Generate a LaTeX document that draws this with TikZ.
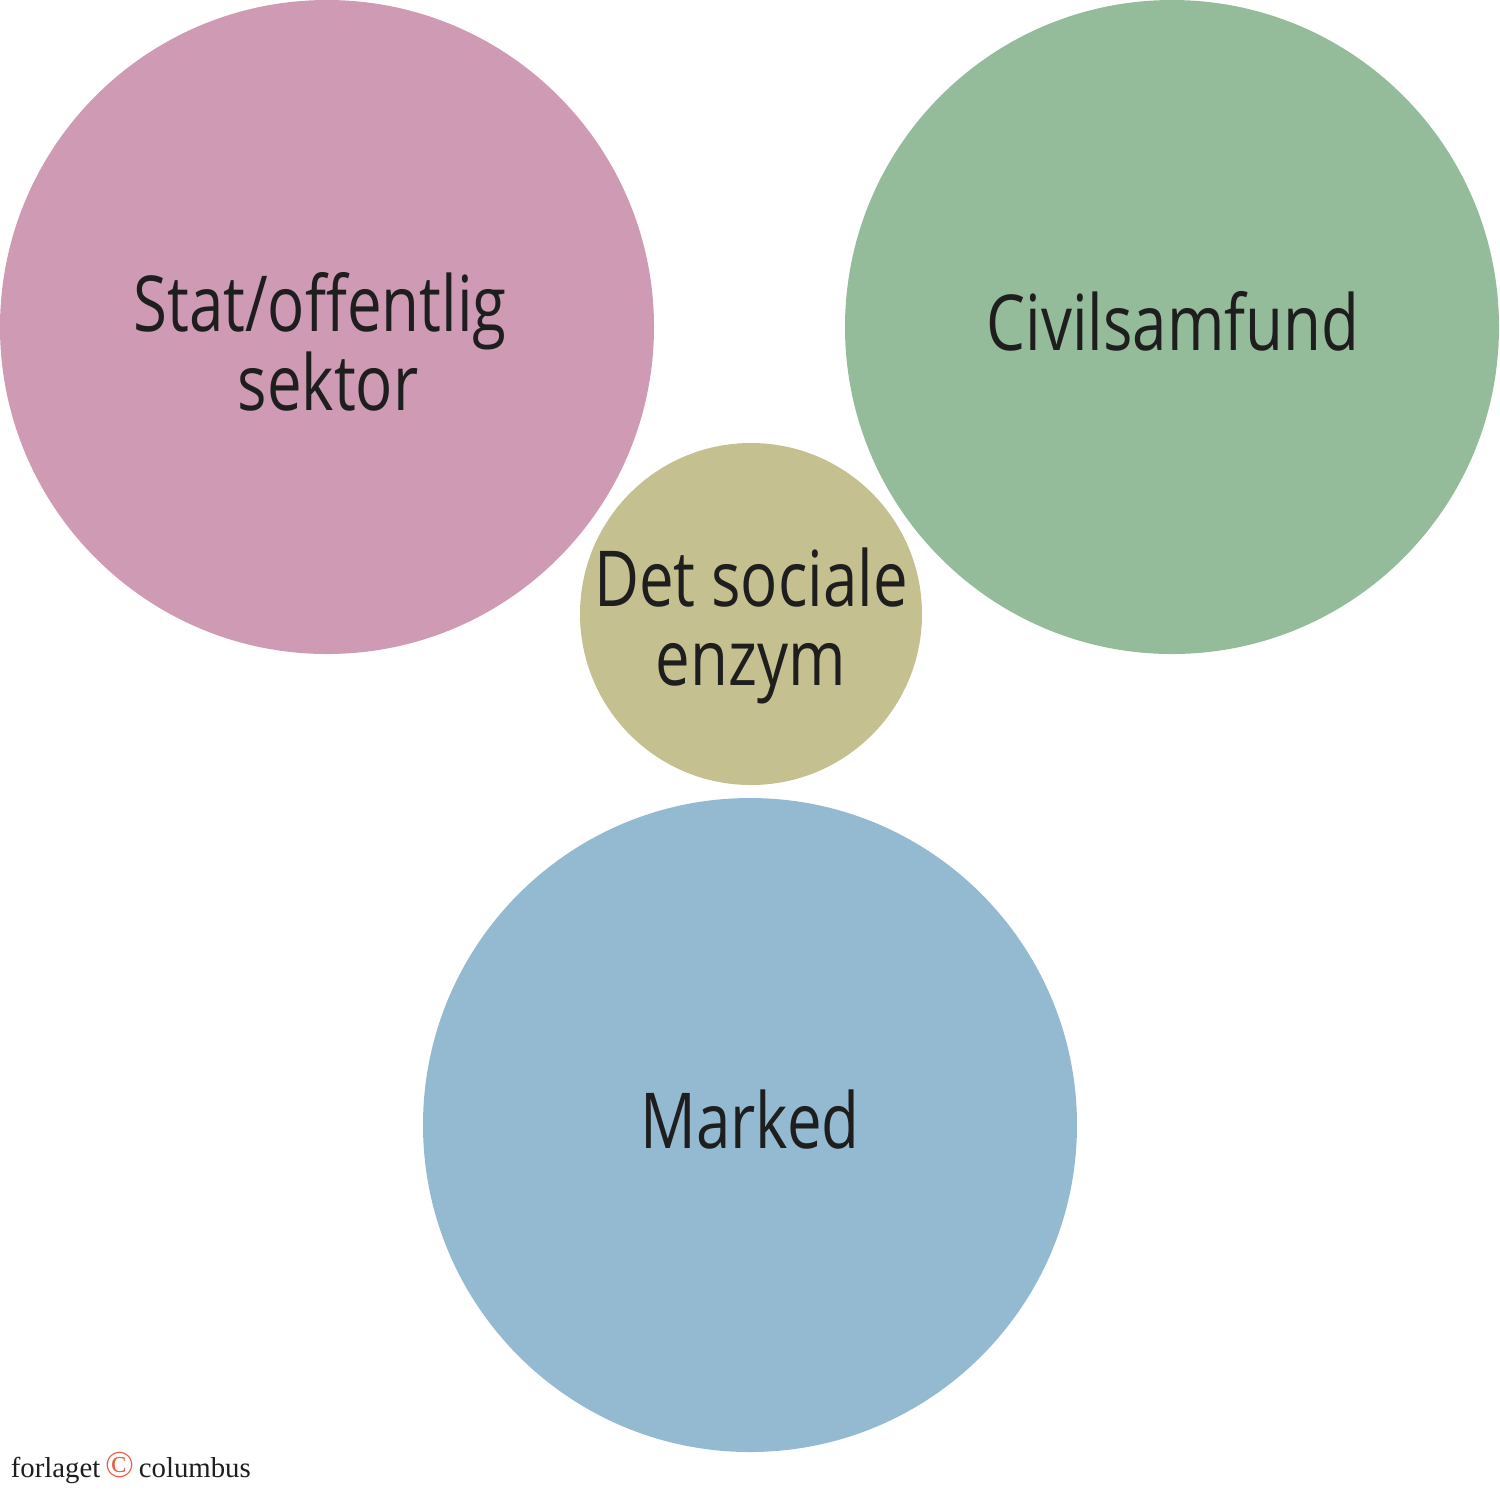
\documentclass[tikz,border=0pt]{standalone}
\usepackage{fontspec}
\newfontfamily\circfont{Open Sans}[FakeStretch=0.8]
\newfontfamily\logofont{Liberation Serif}
\definecolor{statpink}{RGB}{206,154,180}
\definecolor{civilgreen}{RGB}{149,188,154}
\definecolor{enzymtan}{RGB}{197,192,143}
\definecolor{marketblue}{RGB}{147,186,209}
\definecolor{logored}{RGB}{232,96,74}
\definecolor{inkgray}{RGB}{30,30,30}
\begin{document}
\begin{tikzpicture}[x=0.25pt, y=-0.25pt,
	sphere/.style={circle, inner sep=0pt, minimum size=#1},
	sectortext/.style={inner sep=0pt, align=center, text=inkgray,
		font=\circfont\fontsize{19.3}{19.75}\selectfont},
	logo/.style={inner sep=0pt, text=inkgray, font=\logofont\fontsize{7.2}{8}\selectfont}]
	\useasboundingbox (0,0) rectangle (1500,1492);
	%Ba sektorer
	\node[sphere=163.5pt, fill=statpink] (stat) at (327,327) {};
	\node[sphere=163.5pt, fill=civilgreen] (civil) at (1172,327) {};
	\node[sphere=163.5pt, fill=marketblue] (marked) at (750,1125) {};
	%Enzymet i midten
	\node[sphere=85.5pt, fill=enzymtan] (enzym) at (751,614) {};
	%Tekster
	\node[sectortext] (stat-text) at (320,342) {Stat/offentlig\\\hspace{4pt}sektor};
	\node[sectortext] (civil-text) at (1173,321) {Civilsamfund};
	\node[sectortext] (marked-text) at (750,1120) {Marked};
	\node[sectortext] (enzym-text) at (751,626) {Det sociale\\enzym};
	%Forlag
	\node[logo, anchor=base west] (logo) at (10,1477) {forlaget\,{\color{logored}\fontsize{9.5}{9}\selectfont\textcopyright}\,columbus};
\end{tikzpicture}
\end{document}
